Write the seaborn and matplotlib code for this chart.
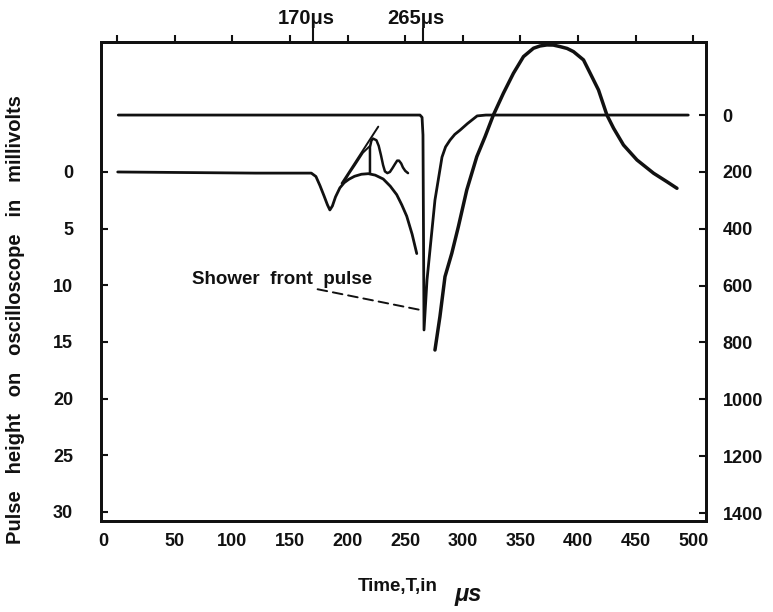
import matplotlib
matplotlib.use("Agg")
import matplotlib.pyplot as plt
import matplotlib.transforms as mtransforms
import seaborn as sns

# Time axis (microseconds) and pulse traces
# Upper trace (right scale): flat baseline, sharp shower-front spike near 265 us
t_upper = [1, 262.8, 264.6, 265.4, 266.3, 268.9, 275.8, 281.9, 285.0, 288.9, 293.0,
           297.6, 304.0, 312.4, 320, 495.6]
v_upper = [0, 0, 8, 70, 756, 580, 299, 148, 112, 88, 68,
           53, 30, 3, 0, 0]

# Lower trace (left scale, mV): dip near 185 us and hump before the main pulse
t_lower = [0.5, 60, 120, 168.5, 172.5, 176.0, 179.5, 182.5, 184.6, 186.8, 189.5,
           193.3, 197.0, 201.0, 206.0, 212.0, 218.0, 224.0, 230.9, 237.0, 242.6,
           247.0, 251.3, 256.0, 260.0]
v_lower = [0.0, 0.05, 0.1, 0.1, 0.4, 1.2, 2.1, 2.9, 3.35, 3.0, 2.2,
           1.4, 0.95, 0.65, 0.38, 0.2, 0.15, 0.28, 0.62, 1.25, 2.0,
           2.9, 3.9, 5.5, 7.2]

# Oscillation riding on the hump
t_wiggle = [219.4, 219.4, 220.6, 222.0, 225.0, 227.0, 228.9, 230.8, 232.4, 234.5,
            236.7, 239.0, 241.1, 243.0, 244.6, 246.5, 248.0, 250.0, 252.4]
v_wiggle = [0.09, -2.2, -2.75, -2.95, -2.8, -2.3, -1.5, -0.6, -0.05, 0.1,
            0.0, -0.35, -0.7, -1.0, -1.0, -0.75, -0.4, -0.1, 0.1]

# Straight rise lines from the dip towards the oscillation
t_rise1 = [194.8, 226.6]
v_rise1 = [1.0, -4.0]
t_rise2 = [195.9, 201.0, 206.3, 213.3, 219.4]
v_rise2 = [1.06, 0.2, -0.6, -1.7, -2.3]

# Broad main pulse (left scale, mV)
t_main = [275.8, 280.1, 284.5, 290.4, 296.1, 303.4, 312.1, 319.3, 326.5, 335.2,
          343.9, 352.6, 361.3, 367.0, 372.9, 378.5, 384.5, 390.5, 396.0, 404.7,
          410.5, 417.7, 425.0, 430.8, 439.4, 451.1, 465.5, 477.1, 485.8]
v_main = [15.71, 12.77, 9.24, 7.18, 4.83, 1.59, -1.35, -3.12, -5.03, -6.95,
          -8.71, -10.18, -10.92, -11.12, -11.21, -11.2, -11.06, -10.9, -10.62, -9.89,
          -8.71, -7.24, -5.03, -3.86, -2.38, -1.06, 0.11, 0.86, 1.44]

x_ticks = [0, 50, 100, 150, 200, 250, 300, 350, 400, 450, 500]
left_ticks = [0, 5, 10, 15, 20, 25, 30]
right_ticks = [0, 200, 400, 600, 800, 1000, 1200, 1400]
top_marks = [170, 265]
top_labels = ["170μs", "265μs"]

annot_text = "Shower  front  pulse"
annot_from = (171.6, 10.3)
annot_to = (264.3, 12.2)

sns.set_style("white")
plt.rcParams["font.family"] = ["Liberation Sans", "DejaVu Sans"]
plt.rcParams["font.weight"] = "bold"
plt.rcParams["lines.solid_joinstyle"] = "round"
plt.rcParams["lines.solid_capstyle"] = "round"

fig = plt.figure(figsize=(7.73, 6.12), dpi=100)
ax = fig.add_axes([101 / 773, 91 / 612, 605 / 773, 479 / 612])
ax2 = ax.twinx()

black = "#111111"
lw_thick = 2.5
lw_thin = 1.4

sns.lineplot(x=t_upper, y=v_upper, ax=ax2, color=black, lw=2.0,
             estimator=None, sort=False)
sns.lineplot(x=t_lower, y=v_lower, ax=ax, color=black, lw=2.0,
             estimator=None, sort=False)
sns.lineplot(x=t_wiggle, y=v_wiggle, ax=ax, color=black, lw=lw_thin + 0.4,
             estimator=None, sort=False)
sns.lineplot(x=t_rise1, y=v_rise1, ax=ax, color=black, lw=lw_thin,
             estimator=None, sort=False)
sns.lineplot(x=t_rise2, y=v_rise2, ax=ax, color=black, lw=lw_thin,
             estimator=None, sort=False)
sns.lineplot(x=t_main, y=v_main, ax=ax, color=black, lw=lw_thick,
             estimator=None, sort=False)

ax.set_xlim(-14, 511)
ax.set_ylim(30.8, -11.47)
ax2.set_ylim(1428, -257)

ax.set_xticks(x_ticks)
ax.set_yticks(left_ticks)
ax2.set_yticks(right_ticks)
ax.set_xticklabels([str(v) for v in x_ticks], fontsize=13, fontweight="bold")
ax.set_yticklabels([str(v) for v in left_ticks], fontsize=13, fontweight="bold")
ax2.set_yticklabels([str(v) for v in right_ticks], fontsize=13, fontweight="bold")

ax.tick_params(axis="x", direction="in", length=5, width=1.5, pad=9, colors=black)
ax.tick_params(axis="y", direction="in", length=5, width=1.5, pad=20, colors=black)
ax2.tick_params(axis="y", direction="in", length=5, width=1.5, pad=12, colors=black)

# the "0" time label sits at the left corner of the frame
first = ax.get_xticklabels()[0]
first.set_transform(first.get_transform() +
                    mtransforms.ScaledTranslation(-14 / 100, 0, fig.dpi_scale_trans))

for a in (ax, ax2):
    for s in a.spines.values():
        s.set_visible(True)
        s.set_linewidth(2.0)
        s.set_color(black)

# Top axis: ticks every 50 us plus the two marked times
top = ax.secondary_xaxis("top")
top.set_xticks(x_ticks)
top.set_xticklabels([])
top.tick_params(axis="x", direction="out", length=5, width=1.5, colors=black)
top.set_xticks(top_marks, minor=True)
top.tick_params(axis="x", which="minor", direction="out", length=10, width=1.5, colors=black)
top.spines["top"].set_linewidth(2.0)

for xm, lab in zip(top_marks, top_labels):
    ax.text(xm - 6, 1.03, lab, transform=ax.get_xaxis_transform(),
            ha="center", va="bottom", fontsize=14.5, fontweight="bold", color=black)

ax.annotate("", xy=annot_to, xytext=annot_from,
            arrowprops=dict(arrowstyle="-", linestyle=(0, (5, 3)), lw=1.4, color=black))
ax.text(64.7, 9.53, annot_text, ha="left", va="center", fontsize=13.5,
        fontweight="bold", color=black)

fig.text(16 / 773, 1 - 320 / 612, "Pulse   height   on   oscilloscope   in   millivolts",
         rotation=90, ha="center", va="center", fontsize=14.5, fontweight="bold",
         color=black)
fig.text(398 / 773, 1 - 586 / 612, "Time,T,in", ha="center", va="center",
         fontsize=13.5, fontweight="bold", color=black)
fig.text(468 / 773, 1 - 594 / 612, "μs", ha="center", va="center",
         fontsize=17, style="italic", color=black)

ax.set_xlabel("")
ax.set_ylabel("")
ax2.set_ylabel("")

fig.savefig("out.png", dpi=100, facecolor="white")
